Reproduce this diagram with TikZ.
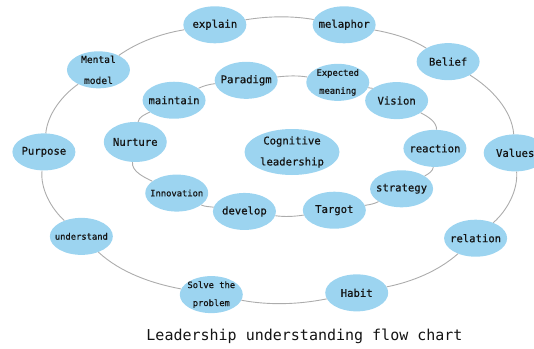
\documentclass[tikz,border=0pt]{standalone}
\usepackage{fontspec}
\newfontfamily\monof{DejaVu Sans Mono}
\newfontfamily\monob[FakeBold=0.7]{DejaVu Sans Mono}
\usetikzlibrary{shapes.geometric,calc}
\definecolor{bubble}{RGB}{156,212,240}
\definecolor{linegrey}{RGB}{172,172,172}
\definecolor{ink}{RGB}{20,20,20}
\tikzset{
  bub/.style={ellipse, fill=bubble, minimum width=63pt, minimum height=37pt,
    inner xsep=-12pt, inner ysep=-8pt, align=center, text=ink,
    font=\monob\fontsize{10.6}{20}\selectfont},
  smalltxt/.style={font=\monob\fontsize{8.8}{18}\selectfont},
  midtxt/.style={font=\monob\fontsize{9.6}{21}\selectfont},
  link/.style={draw=linegrey, line width=0.9pt, looseness=0.85}
}
\begin{document}
\begin{tikzpicture}[x=1pt,y=1pt]
\useasboundingbox (0,0) rectangle (534,-348);
\coordinate (O) at (279.5,-160);
\coordinate (I) at (285,-146);
% outer ring
\node[bub] (values)   at ($(O)+(2.9:236 and 140.6)$) {Values};
\node[bub] (belief)   at ($(O)+(44.4:236 and 140.6)$) {Belief};
\node[bub] (metaphor) at ($(O)+(74.1:236 and 140.6)$) {melaphor};
\node[bub] (explain)  at ($(O)+(105.9:236 and 140.6)$) {explain};
\node[bub,midtxt] (mental) at ($(O)+(140.1:236 and 140.6)$) {Mental\\model};
\node[bub] (purpose)  at ($(O)+(176.7:236 and 140.6)$) {Purpose};
\node[bub,smalltxt] (understand) at ($(O)+(212.9:236 and 140.6)$) {understand};
\node[bub,smalltxt] (solve) at ($(O)+(253.2:236 and 140.6)$) {Solve the\\problem};
\node[bub] (habit)    at ($(O)+(289.1:236 and 140.6)$) {Habit};
\node[bub] (relation) at ($(O)+(326.2:236 and 140.6)$) {relation};
% inner ring
\node[bub] (reaction) at ($(I)+(358:150 and 68)$) {reaction};
\node[bub] (vision)   at ($(I)+(41.9:150 and 68)$) {Vision};
\node[bub,smalltxt] (expected) at ($(I)+(69.4:150 and 68)$) {Expected\\meaning};
\node[bub] (paradigm) at ($(I)+(105:150 and 68)$) {Paradigm};
\node[bub] (maintain) at ($(I)+(137.7:150 and 68)$) {maintain};
\node[bub,minimum height=40pt] (nurture) at ($(I)+(176.6:150 and 68)$) {Nurture};
\node[bub,smalltxt] (innovation) at ($(I)+(223.8:150 and 68)$) {Innovation};
\node[bub] (develop)  at ($(I)+(254.3:150 and 68)$) {develop};
\node[bub] (target)   at ($(I)+(289.2:150 and 68)$) {Targot};
\node[bub] (strategy) at ($(I)+(321:150 and 68)$) {strategy};
% centre
\node[bub,minimum width=95pt,minimum height=46pt,font=\monob\fontsize{10.6}{21}\selectfont] (cog) at (292,-152) {Cognitive\\leadership};
% outer connectors
\draw[link] (values)   to[out=94.9,in=328.7]  (belief);
\draw[link] (belief)   to[out=148.7,in=350.4] (metaphor);
\draw[link] (metaphor) to[out=170.4,in=9.6]   (explain);
\draw[link] (explain)  to[out=189.6,in=35.5]  (mental);
\draw[link] (mental)   to[out=215.5,in=84.5]  (purpose);
\draw[link] (purpose)  to[out=264.5,in=137.4] (understand);
\draw[link] (understand) to[out=317.4,in=169.8] (solve);
\draw[link] (solve)    to[out=349.8,in=191.7] (habit);
\draw[link] (habit)    to[out=11.7,in=221.7]  (relation);
\draw[link] (relation) to[out=41.7,in=274.9]  (values);
% inner connectors
\draw[link] (reaction) to[out=85.6,in=333.2]  (vision);
\draw[link] (vision)   to[out=153.2,in=350.3] (expected);
\draw[link] (expected) to[out=170.3,in=6.9]   (paradigm);
\draw[link] (paradigm) to[out=186.9,in=26.5]  (maintain);
\draw[link] (maintain) to[out=206.5,in=82.5]  (nurture);
\draw[link] (nurture)  to[out=262.5,in=154.7] (innovation);
\draw[link] (innovation) to[out=334.7,in=172.7] (develop);
\draw[link] (develop)  to[out=352.7,in=189]   (target);
\draw[link] (target)   to[out=9,in=209.2]     (strategy);
\draw[link] (strategy) to[out=29.2,in=265.6]  (reaction);
% title
\node[font=\monof\fontsize{15}{18}\selectfont, text=ink] (title) at (304.5,-336) {Leadership understanding flow chart};
\end{tikzpicture}
\end{document}
